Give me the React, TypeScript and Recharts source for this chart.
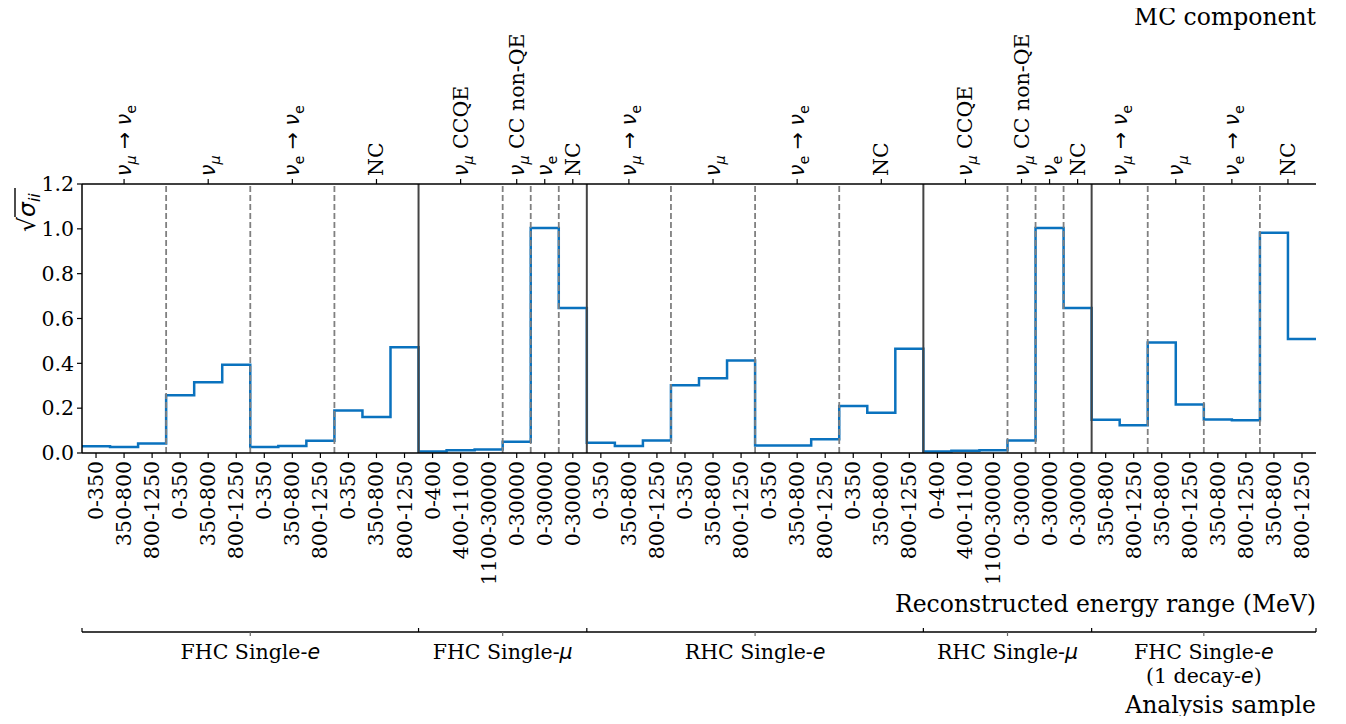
import React from "react";
import { ComposedChart, Line, XAxis, YAxis, ReferenceLine } from "recharts";

const SERIF = "'DejaVu Serif', serif";
const SANS = "'DejaVu Sans', sans-serif";
const FS = 20.5;
const LFS = 23.5;

// MC components (top axis)
const singleEComponents = ["ν_μ → ν_e", "ν_μ", "ν_e → ν_e", "NC"];
const singleMuComponents = ["ν_μ CCQE", "ν_μ CC non-QE", "ν_e", "NC"];

// Reconstructed energy ranges (bottom axis)
const singleEBins = ["0-350", "350-800", "800-1250"];
const ccqeBins = ["0-400", "400-1100", "1100-30000"];
const fullRangeBins = ["0-30000"];
const decayEBins = ["350-800", "800-1250"];

// Analysis samples
const sampleNames = ["FHC Single-{e}", "FHC Single-{μ}", "RHC Single-{e}", "RHC Single-{μ}", "FHC Single-{e}|(1 decay-{e})"];

// sqrt(sigma_ii) values per sample
const fhcSingleEValues = [0.030, 0.027, 0.042, 0.258, 0.316, 0.394, 0.027, 0.031, 0.055, 0.190, 0.161, 0.472];
const fhcSingleMuValues = [0.007, 0.012, 0.016, 0.050, 1.004, 0.647];
const rhcSingleEValues = [0.046, 0.031, 0.056, 0.302, 0.334, 0.413, 0.033, 0.034, 0.061, 0.210, 0.179, 0.465];
const rhcSingleMuValues = [0.007, 0.010, 0.012, 0.056, 1.004, 0.647];
const fhcDecayEValues = [0.148, 0.124, 0.493, 0.216, 0.150, 0.146, 0.982, 0.508];

const yTicks = [0, 0.2, 0.4, 0.6, 0.8, 1.0, 1.2];

const sampleComponents = [singleEComponents, singleMuComponents, singleEComponents, singleMuComponents, singleEComponents];
const sampleBins = [
  [singleEBins, singleEBins, singleEBins, singleEBins],
  [ccqeBins, fullRangeBins, fullRangeBins, fullRangeBins],
  [singleEBins, singleEBins, singleEBins, singleEBins],
  [ccqeBins, fullRangeBins, fullRangeBins, fullRangeBins],
  [decayEBins, decayEBins, decayEBins, decayEBins],
];
const sampleValues = [fhcSingleEValues, fhcSingleMuValues, rhcSingleEValues, rhcSingleMuValues, fhcDecayEValues];

// build flat tables
const binLabels: string[] = [];
const values: number[] = [];
const componentPos: number[] = [];
const componentLabels: string[] = [];
const componentEdges: number[] = [];
const sampleEdges: number[] = [];
const sampleCenters: number[] = [];
let pos = 0;
sampleNames.forEach((_, si) => {
  const start = pos;
  sampleComponents[si].forEach((c, ci) => {
    const cStart = pos;
    sampleBins[si][ci].forEach((b) => {
      binLabels.push(b);
      pos++;
    });
    componentPos.push((cStart + pos) / 2);
    componentLabels.push(c);
    if (ci < sampleComponents[si].length - 1) componentEdges.push(pos);
  });
  values.push(...sampleValues[si]);
  sampleCenters.push((start + pos) / 2);
  if (si < sampleNames.length - 1) sampleEdges.push(pos);
});
const NBINS = binLabels.length;
const data = values.map((v, i) => ({ x: i, v })).concat([{ x: NBINS, v: values[NBINS - 1] }]);
const binTicks = binLabels.map((_, i) => i + 0.5);
const sampleAxisTicks = [0, ...sampleEdges, NBINS, ...sampleCenters].sort((a, b) => a - b);

function mathParts(s: string, fontSize: number) {
  const parts: React.ReactNode[] = [];
  const sub = Math.round(fontSize * 0.22);
  let i = 0;
  let key = 0;
  let shifted = false;
  let buf = "";
  const flush = () => {
    if (buf) {
      parts.push(
        <tspan key={key++} dy={shifted ? -sub : undefined} fontFamily={SERIF}>
          {buf}
        </tspan>
      );
      shifted = false;
      buf = "";
    }
  };
  while (i < s.length) {
    const ch = s[i];
    if (ch === "_") {
      flush();
      const c = s[i + 1];
      parts.push(
        <tspan key={key++} dy={shifted ? 0 : sub} fontSize={fontSize * 0.7} fontFamily={SANS} fontStyle={c === "μ" ? "italic" : "normal"}>
          {c}
        </tspan>
      );
      shifted = true;
      i += 2;
      continue;
    }
    if (ch === "ν" || ch === "→") {
      flush();
      parts.push(
        <tspan key={key++} dy={shifted ? -sub : undefined} fontFamily={SANS} fontStyle={ch === "ν" ? "italic" : "normal"}>
          {ch === "→" ? " → " : ch}
        </tspan>
      );
      shifted = false;
      i++;
      continue;
    }
    buf += ch;
    i++;
  }
  flush();
  return parts;
}

function italicParts(s: string) {
  const out: React.ReactNode[] = [];
  const re = /\{([^}]*)\}/g;
  let last = 0;
  let m: RegExpExecArray | null;
  let k = 0;
  while ((m = re.exec(s))) {
    if (m.index > last) out.push(<tspan key={k++}>{s.slice(last, m.index)}</tspan>);
    out.push(
      <tspan key={k++} fontStyle="italic" fontFamily={SANS}>
        {m[1]}
      </tspan>
    );
    last = m.index + m[0].length;
  }
  if (last < s.length) out.push(<tspan key={k++}>{s.slice(last)}</tspan>);
  return out;
}

const ComponentTick = (props: any) => {
  const { x, y, payload } = props;
  const idx = componentPos.indexOf(payload.value);
  const label = componentLabels[idx] ?? "";
  return (
    <text transform={`rotate(-90, ${x + 7}, ${y})`} x={x + 7} y={y} textAnchor="start" fontSize={FS} fontFamily={SERIF} fill="#000">
      {mathParts(label, FS)}
    </text>
  );
};

const BinTick = (props: any) => {
  const { x, y, payload } = props;
  const idx = binTicks.indexOf(payload.value);
  return (
    <text transform={`rotate(-90, ${x + 7}, ${y})`} x={x + 7} y={y} textAnchor="end" fontSize={FS} fontFamily={SERIF} fill="#000">
      {binLabels[idx]}
    </text>
  );
};

const SampleTick = (props: any) => {
  const { x, y, payload } = props;
  const v = payload.value;
  const ci = sampleCenters.indexOf(v);
  if (ci < 0) {
    return <line x1={x} x2={x} y1={y} y2={y - 4} stroke="#000" strokeWidth={1.2} />;
  }
  const lines = sampleNames[ci].split("|");
  return (
    <g>
      <line x1={x} x2={x} y1={y} y2={y + 4} stroke="#666" strokeWidth={1.2} />
      {lines.map((ln, li) => (
        <text key={li} x={x} y={y + 27 + li * 24} textAnchor="middle" fontSize={FS} fontFamily={SERIF} fill="#000">
          {italicParts(ln)}
        </text>
      ))}
    </g>
  );
};

const YLabel = (props: any) => {
  const vb = props.viewBox || { x: 22, y: 184 };
  const cx = vb.x + 5;
  const cy = vb.y + 26;
  return (
    <g transform={`translate(${cx}, ${cy}) rotate(-90)`}>
      <text x={-22} y={8} fontSize={LFS} fontFamily={SANS} fill="#000">
        <tspan>√</tspan>
        <tspan fontStyle="italic">σ</tspan>
        <tspan fontStyle="italic" fontSize={16} dy={5}>ii</tspan>
      </text>
      <line x1={-7} x2={22} y1={-12} y2={-12} stroke="#000" strokeWidth={1.4} />
    </g>
  );
};

const BinAxisLabel = (props: any) => {
  const vb = props.viewBox;
  return (
    <text x={vb.x + vb.width} y={vb.y + 159} textAnchor="end" fontSize={LFS} fontFamily={SERIF} fill="#000">
      Reconstructed energy range (MeV)
    </text>
  );
};

const SampleAxisLabel = (props: any) => {
  const vb = props.viewBox;
  return (
    <text x={vb.x + vb.width} y={vb.y + 81} textAnchor="end" fontSize={LFS} fontFamily={SERIF} fill="#000">
      Analysis sample
    </text>
  );
};

const TopAxisLabel = (props: any) => {
  const vb = props.viewBox;
  return (
    <text x={vb.x + vb.width} y={vb.y + 25} textAnchor="end" fontSize={LFS} fontFamily={SERIF} fill="#000">
      MC component
    </text>
  );
};

export default function App() {
  return (
    <div style={{ width: 1346, height: 724, background: "#fff", margin: -8 }}>
      <ComposedChart width={1346} height={724} data={data} margin={{ top: 0, right: 30, bottom: 0, left: 22 }}>
        <XAxis
          xAxisId="top"
          orientation="top"
          type="number"
          dataKey="x"
          domain={[0, NBINS]}
          ticks={componentPos}
          interval={0}
          height={184}
          tickSize={5}
          tickMargin={3}
          tick={<ComponentTick />}
          axisLine={{ stroke: "#000", strokeWidth: 1.5 }}
          tickLine={{ stroke: "#000", strokeWidth: 1.2 }}
          label={{ content: <TopAxisLabel /> }}
        />
        <XAxis
          xAxisId="bins"
          orientation="bottom"
          type="number"
          dataKey="x"
          domain={[0, NBINS]}
          ticks={binTicks}
          interval={0}
          height={179}
          tickSize={5}
          tickMargin={3}
          tick={<BinTick />}
          axisLine={{ stroke: "#000", strokeWidth: 1.5 }}
          tickLine={{ stroke: "#000", strokeWidth: 1.2 }}
          label={{ content: <BinAxisLabel /> }}
        />
        <XAxis
          xAxisId="samples"
          orientation="bottom"
          type="number"
          dataKey="x"
          domain={[0, NBINS]}
          ticks={sampleAxisTicks}
          interval={0}
          height={92}
          tickSize={0}
          tickMargin={0}
          tick={<SampleTick />}
          axisLine={{ stroke: "#000", strokeWidth: 1.5 }}
          tickLine={false}
          label={{ content: <SampleAxisLabel /> }}
        />
        <YAxis
          yAxisId="y"
          type="number"
          domain={[0, 1.2]}
          ticks={yTicks}
          interval={0}
          width={60}
          tickSize={5}
          tickMargin={3}
          tickFormatter={(v: number) => v.toFixed(1)}
          tick={{ fontSize: FS, fontFamily: SERIF, fill: "#000" }}
          axisLine={{ stroke: "#000", strokeWidth: 1.5 }}
          tickLine={{ stroke: "#000", strokeWidth: 1.2 }}
          label={{ content: <YLabel /> }}
        />
        <YAxis
          yAxisId="right"
          orientation="right"
          type="number"
          domain={[0, 1.2]}
          width={0}
          tick={false}
          tickLine={false}
          axisLine={{ stroke: "#000", strokeWidth: 1.5 }}
        />
        <Line
          xAxisId="bins"
          yAxisId="y"
          type="stepAfter"
          dataKey="v"
          stroke="#0a72be"
          strokeWidth={2.5}
          dot={false}
          activeDot={false}
          isAnimationActive={false}
        />
        {componentEdges.map((e) => (
          <ReferenceLine key={`c${e}`} xAxisId="bins" yAxisId="y" x={e} stroke="#808080" strokeWidth={1.8} strokeDasharray="6 3" />
        ))}
        {sampleEdges.map((e) => (
          <ReferenceLine key={`s${e}`} xAxisId="bins" yAxisId="y" x={e} stroke="#444" strokeWidth={2} />
        ))}
      </ComposedChart>
    </div>
  );
}
